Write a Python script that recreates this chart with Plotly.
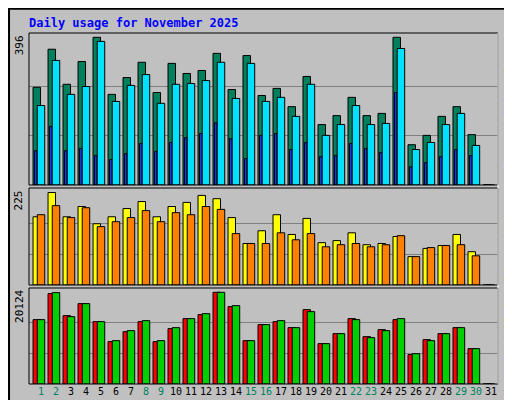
import plotly.graph_objects as go

days = list(range(1, 32))
hits = [262, 364, 270, 331, 396, 243, 288, 329, 248, 326, 299, 307, 353, 256, 347,
        240, 259, 210, 291, 162, 186, 235, 186, 192, 396, 108, 133, 184, 210, 135, 0]
files = [213, 334, 243, 264, 385, 224, 267, 296, 219, 270, 272, 280, 329, 232, 326,
         224, 235, 184, 270, 133, 162, 213, 162, 165, 366, 95, 114, 162, 192, 106, 0]
pages = [92, 157, 92, 98, 79, 68, 84, 111, 90, 114, 127, 138, 167, 124, 71,
         133, 138, 95, 114, 76, 79, 111, 98, 87, 248, 49, 60, 76, 95, 79, 0]
visits = [166, 225, 166, 191, 149, 166, 186, 203, 166, 191, 201, 218, 210, 164, 101,
          132, 171, 123, 162, 103, 108, 127, 98, 101, 118, 69, 89, 96, 123, 81, 0]
sites = [171, 193, 164, 188, 142, 154, 164, 181, 154, 176, 171, 191, 184, 125, 101,
         101, 127, 110, 125, 93, 98, 101, 93, 98, 120, 69, 91, 96, 98, 71, 0]
kb_f = [14124, 19832, 15002, 17636, 13685, 9294, 11489, 13685, 9294, 12148, 14343,
        15221, 20124, 16978, 9513, 13026, 13685, 12367, 16319, 8855, 11050, 14343,
        10392, 11928, 14124, 6440, 9733, 11050, 12367, 7757, 0]
kb_out = [14124, 20051, 14782, 17636, 13685, 9513, 11709, 13904, 9513, 12367, 14343,
          15441, 20124, 17197, 9513, 13026, 13904, 12367, 15880, 8855, 11050, 14124,
          10172, 11709, 14343, 6659, 9513, 11050, 12367, 7757, 0]
weekend_days = [1, 2, 8, 9, 15, 16, 22, 23, 29, 30]

max_hits = 396
max_visits = 225
max_kb = 20124

FONT = "DejaVu Sans Mono"
BG = "#c0c0c0"
line = dict(color="black", width=1)

fig = go.Figure()


def add_bar(y, color, axis, offset, width):
    fig.add_trace(go.Bar(
        x=days, y=y, marker=dict(color=color, line=line),
        offset=offset, width=width, xaxis=axis[0], yaxis=axis[1],
        hoverinfo="skip", showlegend=False))


add_bar(hits, "#00805c", ("x", "y"), -0.53, 0.5)
add_bar(pages, "#0040ff", ("x", "y"), -0.43, 0.17)
add_bar(files, "#00e0ff", ("x", "y"), -0.25, 0.5)
add_bar(visits, "#ffff00", ("x2", "y2"), -0.53, 0.5)
add_bar(sites, "#ff8000", ("x2", "y2"), -0.25, 0.5)
add_bar(kb_f, "#ff0000", ("x3", "y3"), -0.53, 0.5)
add_bar(kb_out, "#00d000", ("x3", "y3"), -0.25, 0.5)

tick_text = [f"<span style='color:{'#00805c' if d in weekend_days else 'black'}'>{d}</span>"
             for d in days]

xcommon = dict(range=[0.2, 31.47], domain=[0.041, 0.957], showgrid=False,
               zeroline=False, showline=False, fixedrange=True)
fig.update_layout(
    xaxis=dict(**xcommon, anchor="y", showticklabels=False, ticks=""),
    xaxis2=dict(**xcommon, anchor="y2", showticklabels=False, ticks=""),
    xaxis3=dict(**xcommon, anchor="y3", tickmode="array", tickvals=days,
                ticktext=tick_text, ticks="", tickangle=0, ticklen=2,
                tickfont=dict(family=FONT, size=10)),
)


def yaxis(domain, vmax, top):
    return dict(domain=domain, range=[0, top], tickvals=[vmax / 3, vmax * 2 / 3],
                showticklabels=False, ticks="", gridcolor="#808080", gridwidth=1,
                zeroline=False, showline=False, fixedrange=True)


fig.update_layout(
    yaxis=yaxis([0.5575, 0.9375], max_hits, 407.5),
    yaxis2=yaxis([0.3075, 0.55], max_visits, 236),
    yaxis3=yaxis([0.06, 0.30], max_kb, 21068),
)

shapes = [dict(type="rect", xref="paper", yref="paper", x0=0.002, x1=0.998,
               y0=0.002, y1=0.998, line=dict(color="black", width=2))]
for y0, y1 in [(0.5575, 0.9375), (0.3075, 0.55), (0.06, 0.30)]:
    shapes.append(dict(type="rect", xref="paper", yref="paper", x0=0.041, x1=0.957,
                       y0=y0, y1=y1, line=dict(color="black", width=1)))
shapes.append(dict(type="line", xref="paper", yref="paper", x0=0.957, x1=0.957,
                   y0=0.06, y1=0.9375, line=dict(color="white", width=1)))

annotations = [
    dict(text="<b>Daily usage for November 2025</b>", x=0.037, y=0.985,
         xanchor="left", yanchor="top", font=dict(family=FONT, size=12, color="#0000ff")),
    dict(text="396", x=0.039, y=0.938, xanchor="right", yanchor="top", textangle=-90),
    dict(text="225", x=0.039, y=0.55, xanchor="right", yanchor="top", textangle=-90),
    dict(text="20124", x=0.039, y=0.30, xanchor="right", yanchor="top", textangle=-90),
]
right_labels = [
    ([("Pages", "#00e0ff"), ("Files", "#0040ff"), ("Hits", "#00805c")], 0.935),
    ([("Sites", "#ff8000"), ("Visits", "#ffff00")], 0.555),
    ([("kB F", "#ff0000"), ("kB In", "#0080ff"), ("kB Out", "#00d000")], 0.30),
]
for parts, ytop in right_labels:
    txt = " / ".join(f"<span style='color:{c}'>{t}</span>" for t, c in parts)
    annotations.append(dict(text=txt, x=0.977, y=ytop, xanchor="center",
                            yanchor="top", textangle=-90))
for a in annotations:
    a.setdefault("xref", "paper")
    a.setdefault("yref", "paper")
    a.setdefault("showarrow", False)
    a.setdefault("font", dict(family=FONT, size=11, color="black"))

fig.update_layout(
    width=512, height=400, margin=dict(l=0, r=0, t=0, b=0),
    paper_bgcolor=BG, plot_bgcolor=BG, barmode="overlay",
    shapes=shapes, annotations=annotations,
)

fig.write_html("out.html")
